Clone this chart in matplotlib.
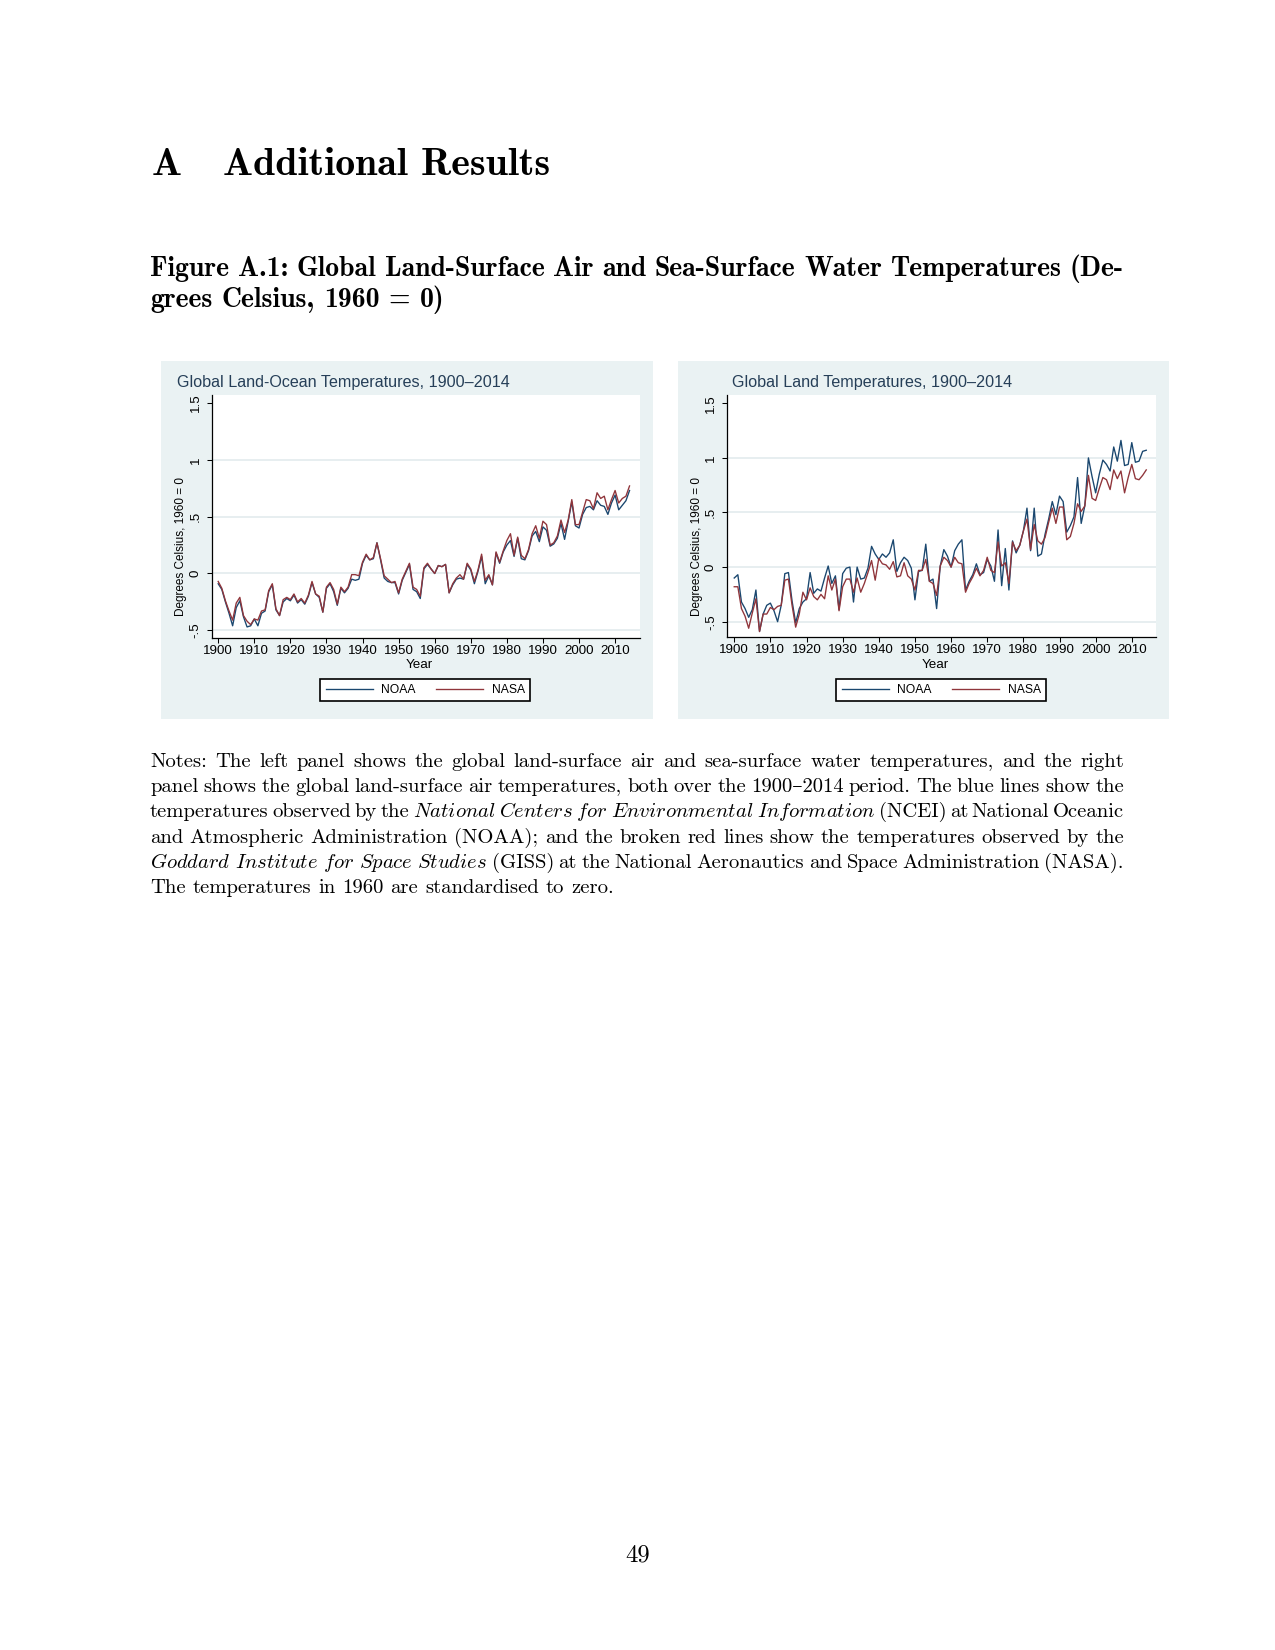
import numpy as np
import matplotlib
matplotlib.use('Agg')
import matplotlib.pyplot as plt
from matplotlib.patches import Rectangle

# --- data (degrees C, 1960 = 0) ---
years = np.arange(1900, 2015)

lo_noaa = [-0.09, -0.14, -0.25, -0.35, -0.46, -0.30, -0.24, -0.38, -0.47, -0.46,
           -0.40, -0.46, -0.35, -0.33, -0.16, -0.10, -0.32, -0.37, -0.25, -0.22,
           -0.24, -0.19, -0.26, -0.23, -0.27, -0.20, -0.08, -0.18, -0.21, -0.34,
           -0.13, -0.09, -0.16, -0.28, -0.13, -0.17, -0.13, -0.05, -0.06, -0.05,
           0.09, 0.16, 0.12, 0.13, 0.27, 0.12, -0.04, -0.07, -0.08, -0.08,
           -0.18, -0.06, 0.01, 0.08, -0.14, -0.16, -0.22, 0.04, 0.08, 0.04,
           0.00, 0.07, 0.06, 0.08, -0.17, -0.10, -0.05, -0.04, -0.05, 0.08,
           0.03, -0.09, 0.02, 0.15, -0.09, -0.02, -0.10, 0.18, 0.09, 0.19,
           0.25, 0.29, 0.15, 0.31, 0.13, 0.12, 0.20, 0.33, 0.37, 0.28,
           0.41, 0.38, 0.24, 0.26, 0.31, 0.44, 0.30, 0.46, 0.63, 0.42,
           0.40, 0.52, 0.58, 0.59, 0.56, 0.64, 0.60, 0.59, 0.52, 0.62,
           0.69, 0.56, 0.60, 0.64, 0.73]

lo_nasa = [-0.07, -0.13, -0.24, -0.33, -0.41, -0.26, -0.21, -0.37, -0.42, -0.45,
           -0.40, -0.41, -0.33, -0.32, -0.15, -0.09, -0.31, -0.37, -0.23, -0.21,
           -0.23, -0.18, -0.25, -0.22, -0.26, -0.19, -0.07, -0.18, -0.20, -0.34,
           -0.12, -0.08, -0.14, -0.27, -0.12, -0.16, -0.12, -0.01, -0.01, -0.02,
           0.10, 0.17, 0.12, 0.14, 0.27, 0.13, -0.02, -0.05, -0.08, -0.07,
           -0.17, -0.05, 0.02, 0.09, -0.12, -0.14, -0.20, 0.05, 0.09, 0.04,
           0.00, 0.07, 0.06, 0.08, -0.17, -0.09, -0.04, -0.01, -0.05, 0.09,
           0.04, -0.07, 0.03, 0.17, -0.06, -0.01, -0.10, 0.19, 0.10, 0.20,
           0.29, 0.35, 0.16, 0.32, 0.16, 0.13, 0.21, 0.35, 0.42, 0.31,
           0.46, 0.43, 0.25, 0.27, 0.33, 0.47, 0.36, 0.47, 0.65, 0.43,
           0.43, 0.54, 0.65, 0.64, 0.57, 0.71, 0.66, 0.68, 0.56, 0.65,
           0.73, 0.62, 0.66, 0.68, 0.77]

la_noaa = [-0.10, -0.07, -0.32, -0.38, -0.46, -0.39, -0.21, -0.59, -0.43, -0.35,
           -0.33, -0.40, -0.50, -0.35, -0.06, -0.05, -0.31, -0.51, -0.38, -0.32,
           -0.29, -0.05, -0.24, -0.20, -0.22, -0.10, 0.01, -0.15, -0.08, -0.39,
           -0.06, -0.01, 0.00, -0.32, 0.00, -0.11, -0.10, -0.01, 0.19, 0.12,
           0.07, 0.12, 0.09, 0.13, 0.25, -0.04, 0.04, 0.09, 0.06, -0.01,
           -0.30, -0.04, -0.03, 0.21, -0.13, -0.11, -0.38, 0.01, 0.16, 0.10,
           0.00, 0.15, 0.21, 0.25, -0.21, -0.13, -0.07, 0.03, -0.07, -0.05,
           0.07, 0.01, -0.13, 0.34, -0.17, 0.17, -0.21, 0.24, 0.13, 0.20,
           0.33, 0.54, 0.15, 0.54, 0.10, 0.12, 0.30, 0.44, 0.60, 0.48,
           0.65, 0.60, 0.32, 0.38, 0.46, 0.82, 0.40, 0.56, 1.00, 0.83,
           0.68, 0.85, 0.98, 0.94, 0.88, 1.10, 0.97, 1.16, 0.93, 0.94,
           1.14, 0.96, 0.97, 1.06, 1.07]

la_nasa = [-0.18, -0.18, -0.38, -0.45, -0.56, -0.42, -0.29, -0.59, -0.43, -0.43,
           -0.37, -0.39, -0.36, -0.35, -0.12, -0.11, -0.35, -0.55, -0.43, -0.23,
           -0.30, -0.19, -0.27, -0.30, -0.25, -0.29, -0.08, -0.21, -0.11, -0.40,
           -0.18, -0.11, -0.11, -0.23, -0.10, -0.23, -0.15, -0.05, 0.06, -0.12,
           0.08, 0.03, 0.02, -0.02, 0.05, -0.09, -0.08, 0.04, -0.08, -0.11,
           -0.21, -0.03, -0.03, 0.07, -0.13, -0.15, -0.26, 0.01, 0.09, 0.06,
           0.00, 0.09, 0.04, 0.03, -0.23, -0.15, -0.09, -0.01, -0.08, -0.03,
           0.09, -0.03, -0.05, 0.23, 0.01, 0.04, -0.15, 0.23, 0.15, 0.20,
           0.33, 0.44, 0.16, 0.39, 0.24, 0.21, 0.27, 0.41, 0.54, 0.40,
           0.55, 0.55, 0.25, 0.28, 0.40, 0.58, 0.51, 0.56, 0.84, 0.63,
           0.61, 0.72, 0.82, 0.80, 0.71, 0.89, 0.81, 0.88, 0.68, 0.82,
           0.94, 0.81, 0.80, 0.84, 0.89]

ytick_vals = [-0.5, 0, 0.5, 1, 1.5]
ytick_labels = ['-.5', '0', '.5', '1', '1.5']
xtick_vals = list(range(1900, 2011, 10))

NAVY = '#1a476f'
MAROON = '#90353b'
BG = '#eaf2f3'
SANS = 'Liberation Sans'
ROMAN = ['cmr10', 'DejaVu Serif']
BOLD = ['cmb10', 'DejaVu Serif']
ITAL = 'ital'  # marker: drawn through mathtext \mathit in the cm fontset

plt.rcParams['mathtext.fontset'] = 'cm'

W, H = 1275, 1650
fig = plt.figure(figsize=(W / 150, H / 150), dpi=150)
r = fig.canvas.get_renderer()


def fx(x):
    return x / W


def fy(y):
    return 1 - y / H


def put(x, y, s, **kw):
    return fig.text(fx(x), fy(y), s, **kw)


def width(t):
    return t.get_window_extent(r).width


def fit(t, target):
    t.set_fontsize(t.get_fontsize() * target / width(t))
    return t.get_fontsize()


def words_of(line, fam, ital):
    out = []
    on = False
    for w in line.split(' '):
        if w.startswith('*'):
            on = True
            w = w[1:]
        end = w.endswith('*')
        if end:
            w = w[:-1]
        out.append((w, ital if on else fam))
        if end:
            on = False
    return out


def set_line(y, toks, x0, x1, size, stretch=True):
    objs = []
    for w, f in toks:
        if f == ITAL:
            objs.append(put(0, y, r'$\mathit{%s}$' % w, fontsize=size, va='baseline'))
        else:
            objs.append(put(0, y, w, family=f, fontsize=size, va='baseline'))
    ws = [width(o) for o in objs]
    if stretch and len(objs) > 1:
        gap = (x1 - x0 - sum(ws)) / (len(objs) - 1)
    else:
        gap = size * 150 / 72 * 0.333
    x = x0
    for o, w in zip(objs, ws):
        o.set_x(fx(x))
        x += w + gap


# --- page text ---
head = put(223, 175, 'Additional Results', family=BOLD, fontsize=16, va='baseline')
hsize = fit(head, 326)
put(152, 175, 'A', family=BOLD, fontsize=hsize, va='baseline')

cap2 = put(150, 307, 'grees Celsius, 1960 = 0)', family=BOLD, fontsize=12, va='baseline')
csize = fit(cap2, 295)
cap2.remove()
set_line(276, words_of('Figure A.1: Global Land-Surface Air and Sea-Surface Water Temperatures (De-', BOLD, BOLD),
         150, 1124, csize)
set_line(307, words_of('grees Celsius, 1960 = 0)', BOLD, BOLD), 150, 1124, csize, stretch=False)

notes = [
    'Notes: The left panel shows the global land-surface air and sea-surface water temperatures, and the right',
    'panel shows the global land-surface air temperatures, both over the 1900\u20132014 period. The blue lines show the',
    'temperatures observed by the *National Centers for Environmental Information* (NCEI) at National Oceanic',
    'and Atmospheric Administration (NOAA); and the broken red lines show the temperatures observed by the',
    '*Goddard Institute for Space Studies* (GISS) at the National Aeronautics and Space Administration (NASA).',
    'The temperatures in 1960 are standardised to zero.',
]
probe = put(150, 893, notes[-1], family=ROMAN, fontsize=10, va='baseline')
nsize = fit(probe, 465)
probe.remove()
for i, line in enumerate(notes):
    set_line(767 + 25.2 * i, words_of(line, ROMAN, ITAL), 150, 1124, nsize,
             stretch=(i < len(notes) - 1))

put(637.5, 1561, '49', family=ROMAN, fontsize=nsize * 1.2, ha='center', va='baseline')

# --- the two Stata-style panels ---
panels = [
    dict(box=(161, 653.3), plot=(211.7, 640, 395, 638.3), xlim=(1898.2, 2016.9), ylim=(-0.57, 1.57),
         noaa=lo_noaa, nasa=lo_nasa, title='Global Land-Ocean Temperatures, 1900\u20132014',
         tx=176.7, tw=333, ylx=181.0, xlx=419, lgx=425.3),
    dict(box=(678.5, 1168.8), plot=(727, 1156, 395, 637.3), xlim=(1898.0, 2016.7), ylim=(-0.643, 1.576),
         noaa=la_noaa, nasa=la_nasa, title='Global Land Temperatures, 1900\u20132014',
         tx=732, tw=282, ylx=697.0, xlx=935.7, lgx=941.2),
]

tsize = None
for p in panels:
    bx0, bx1 = p['box']
    fig.patches.append(Rectangle((fx(bx0), fy(718.5)), (bx1 - bx0) / W, (718.5 - 360.8) / H,
                                 transform=fig.transFigure, facecolor=BG, edgecolor='none', zorder=-5))
    x0, x1, y0, y1 = p['plot']
    ax = fig.add_axes([fx(x0), fy(y1), (x1 - x0) / W, (y1 - y0) / H])
    ax.set_facecolor('white')
    ax.plot(years, p['noaa'], color=NAVY, lw=0.65, label='NOAA')
    ax.plot(years, p['nasa'], color=MAROON, lw=0.65, label='NASA')
    ax.set_xlim(p['xlim'])
    ax.set_ylim(p['ylim'])
    ax.set_xticks(xtick_vals)
    ax.set_xticklabels([str(v) for v in xtick_vals], family=SANS)
    ax.set_yticks(ytick_vals)
    ax.set_yticklabels(ytick_labels, rotation=90, va='center', family=SANS)
    ax.tick_params(direction='out', length=2.4, width=0.5, labelsize=6.4, color='black')
    ax.tick_params(axis='x', pad=1.0)
    ax.tick_params(axis='y', pad=2.4)
    ax.yaxis.grid(True, color='#e3ebee', lw=0.8)
    ax.get_ygridlines()[-1].set_visible(False)
    ax.set_axisbelow(True)
    for s in ['top', 'right']:
        ax.spines[s].set_visible(False)
    for s in ['left', 'bottom']:
        ax.spines[s].set_linewidth(0.6)

    t = put(p['tx'], 383, p['title'], family=SANS, fontsize=8, color='#263f58', va='center')
    if tsize is None:
        tsize = fit(t, p['tw'])
    else:
        t.set_fontsize(tsize)
    yl = put(p['ylx'], 546, 'Degrees Celsius, 1960 = 0', family=SANS, fontsize=6,
             rotation=90, ha='center', va='center')
    fit_h = yl.get_window_extent(r).height
    yl.set_fontsize(yl.get_fontsize() * 139 / fit_h)
    put(p['xlx'], 665, 'Year', family=SANS, fontsize=6.4, ha='center', va='center')

    leg = ax.legend(loc='center', bbox_to_anchor=(fx(p['lgx']), fy(690)), bbox_transform=fig.transFigure,
                    ncol=2, prop={'family': SANS, 'size': 5.8}, handlelength=3.9, handletextpad=0.7,
                    columnspacing=1.7, borderpad=0.45, frameon=True, fancybox=False,
                    edgecolor='black', framealpha=1)
    leg.get_frame().set_linewidth(0.8)

fig.savefig('out.png', dpi=150, facecolor='white')
